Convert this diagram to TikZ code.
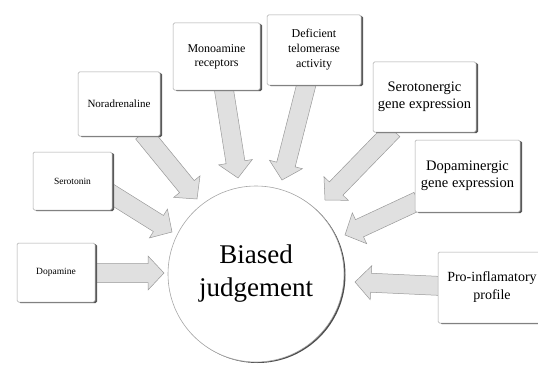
\documentclass[tikz,border=0pt]{standalone}
\usepackage{fontspec}
\setmainfont{Liberation Serif}
\usetikzlibrary{calc,shadows,backgrounds}
\tikzset{
  x=1pt,y=1pt,
  boxnode/.style={draw=black!35, line width=0.5pt, fill=white, rounded corners=1.5pt,
    align=center, inner sep=2pt,
    drop shadow={shadow xshift=2pt, shadow yshift=-1pt, fill=black!65, opacity=1}},
  centernode/.style={circle, draw=black!35, line width=0.6pt, fill=white,
    minimum size=176pt, align=center, inner sep=0pt,
    drop shadow={shadow xshift=1.5pt, shadow yshift=-1pt, fill=black!70, opacity=1}},
  barrowstyle/.style={draw=black!40, line width=0.5pt, fill=black!12, line join=miter}
}
\newcommand\barrow[2]{%
  \coordinate (hb) at ($(#2)!16pt!(#1)$);
  \draw[barrowstyle] ($(#1)!9.5pt!90:(#2)$) -- ($(hb)!9.5pt!90:(#2)$)
    -- ($(hb)!17pt!90:(#2)$) -- (#2) -- ($(hb)!17pt!-90:(#2)$)
    -- ($(hb)!9.5pt!-90:(#2)$) -- ($(#1)!9.5pt!-90:(#2)$) -- cycle;}
\begin{document}
\begin{tikzpicture}
\useasboundingbox (0,0) rectangle (538,365);
% boxes
\node[boxnode, minimum width=87pt, minimum height=67pt, font=\fontsize{12}{14}\selectfont] (mono) at (216.5,308.5) {Monoamine\\receptors};
\node[boxnode, minimum width=82pt, minimum height=64pt, font=\fontsize{11}{12}\selectfont] (nor) at (119,261) {Noradrenaline};
\node[boxnode, minimum width=79pt, minimum height=58pt, font=\fontsize{9.5}{10}\selectfont] (ser) at (72.5,184) {Serotonin};
\node[boxnode, minimum width=78pt, minimum height=59pt, font=\fontsize{9.5}{10}\selectfont] (dop) at (56,92.5) {Dopamine};
\node[boxnode, minimum width=94pt, minimum height=70pt, font=\fontsize{12}{15}\selectfont] (def) at (314,315) {Deficient\\telomerase\\activity};
\node[boxnode, minimum width=103pt, minimum height=70pt, font=\fontsize{14.5}{17}\selectfont] (sgx) at (424.5,268) {Serotonergic\\gene expression};
\node[boxnode, minimum width=105pt, minimum height=72pt, font=\fontsize{14.5}{17}\selectfont] (dgx) at (467.5,189) {Dopaminergic\\gene expression};
\node[boxnode, minimum width=108pt, minimum height=71pt, font=\fontsize{14}{18}\selectfont] (pro) at (492,77.5) {Pro-inflamatory\\profile};
% centre
\node[centernode, font=\fontsize{27}{33}\selectfont] (bj) at (256,91) {Biased\\judgement};
% arrow ends
\coordinate (s1) at (90,92);   \coordinate (t1) at (164,92);
\coordinate (s2) at (108,173); \coordinate (t2) at (172,133);
\coordinate (s3) at (143,232); \coordinate (t3) at (197,166);
\coordinate (s4) at (223.5,278); \coordinate (t4) at (238,187);
\coordinate (s5) at (307,283); \coordinate (t5) at (282,185);
\coordinate (s6) at (393,235); \coordinate (t6) at (325,165);
\coordinate (s7) at (418,164); \coordinate (t7) at (345,130);
\coordinate (s8) at (442,79);  \coordinate (t8) at (355,83);
\begin{pgfonlayer}{background}
\barrow{s1}{t1}
\barrow{s2}{t2}
\barrow{s3}{t3}
\barrow{s4}{t4}
\barrow{s5}{t5}
\barrow{s6}{t6}
\barrow{s7}{t7}
\barrow{s8}{t8}
\end{pgfonlayer}
\end{tikzpicture}
\end{document}
